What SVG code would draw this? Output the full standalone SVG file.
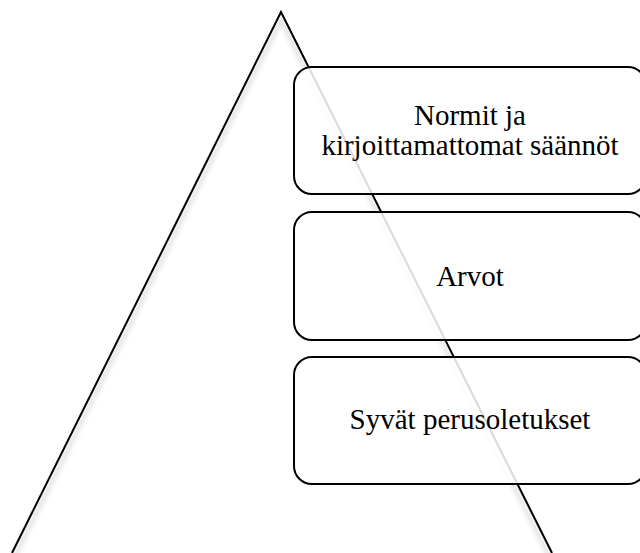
<svg xmlns="http://www.w3.org/2000/svg" width="640" height="553" viewBox="0 0 640 553">
<defs>
<filter id="soft" x="-10%" y="-10%" width="120%" height="120%">
<feGaussianBlur stdDeviation="2"/>
</filter>
</defs>
<style>
.box{fill:#fff;fill-opacity:0.86;stroke:#000;stroke-width:2}
.lbl{font-family:"Liberation Serif","Times New Roman",serif;font-size:29px;fill:#000;text-anchor:middle}
.tri{fill:none;stroke:#000;stroke-width:2}
.shadow{fill:none;stroke:#000;stroke-opacity:0.12;stroke-width:4;filter:url(#soft)}
</style>
<rect width="640" height="553" fill="#fff"/>
<g id="triangle">
<polyline class="shadow" points="15,556 281,20 549,556"/>
<polyline class="tri" points="12,553 281,12 552,553"/>
</g>
<g id="node1">
<rect class="box" x="294" y="67" width="352" height="127" rx="18"/>
<text class="lbl" x="470" y="125">Normit ja</text>
<text class="lbl" x="470" y="155">kirjoittamattomat säännöt</text>
</g>
<g id="node2">
<rect class="box" x="294" y="212" width="352" height="128" rx="18"/>
<text class="lbl" x="470" y="286">Arvot</text>
</g>
<g id="node3">
<rect class="box" x="294" y="357" width="352" height="127" rx="18"/>
<text class="lbl" x="470" y="429">Syvät perusoletukset</text>
</g>
<g id="connectors"></g>
</svg>
